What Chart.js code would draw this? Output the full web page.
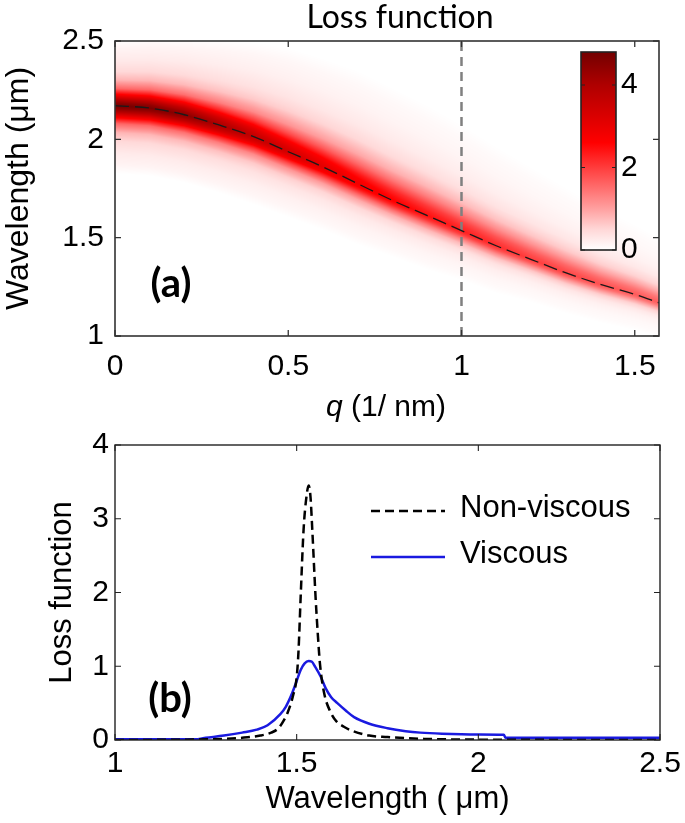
<!DOCTYPE html>
<html>
<head>
<meta charset="utf-8">
<script src="https://cdn.jsdelivr.net/npm/chart.js@4.4.1/dist/chart.umd.min.js"></script>
<style>
  html, body { margin: 0; padding: 0; background: #fff; }
  #wrap { position: relative; width: 685px; height: 823px; }
  #lossMap { position: absolute; left: 0; top: 0; }
  #lossCut { position: absolute; left: 0; top: 430px; }
</style>
</head>
<body>
<div id="wrap">
  <canvas id="lossMap" width="685" height="430"></canvas>
  <canvas id="lossCut" width="685" height="393"></canvas>
</div>
<script>
// ---- panel (a): loss map vs q ----
const qValues        = [0, 0.1, 0.2, 0.3, 0.4, 0.5, 0.6, 0.7, 0.8, 0.9, 1.0, 1.1, 1.2, 1.3, 1.4, 1.5, 1.57];
const peakWavelength = [2.171, 2.159, 2.125, 2.073, 2.014, 1.937, 1.86, 1.775, 1.69, 1.613, 1.536, 1.459, 1.39, 1.322, 1.263, 1.212, 1.169];
const peakLoss       = [4.8, 4.7, 4.5, 4.1, 3.7, 3.4, 3.1, 2.85, 2.65, 2.45, 2.3, 2.15, 2.0, 1.9, 1.8, 1.7, 1.65];
const spreadAbove    = [0.29, 0.31, 0.34, 0.38, 0.42, 0.46, 0.48, 0.5, 0.5, 0.49, 0.47, 0.44, 0.41, 0.38, 0.34, 0.31, 0.29];
const spreadBelow    = [0.30, 0.30, 0.30, 0.30, 0.30, 0.29, 0.28, 0.27, 0.25, 0.24, 0.22, 0.21, 0.19, 0.18, 0.17, 0.16, 0.15];
// cross-section of the band (fraction of spread -> fraction of peak)
const profileFrac  = [0, 0.05, 0.1, 0.2, 0.3, 0.45, 0.6, 0.8, 1.0, 1.15];
const profileLevel = [1, 0.93, 0.83, 0.55, 0.33, 0.17, 0.1, 0.055, 0.03, 0];

const markerQ = [1, 1];
const markerWavelength = [1, 2.5];

const qTicks = [0, 0.5, 1, 1.5];
const wavelengthTicksA = [1, 1.5, 2, 2.5];

const colorbarTicks = [0, 2, 4];
const colorbarMax = 4.8;
const cmapValues = [0, 0.5, 1, 1.5, 2, 2.6, 3.3, 4, 4.8];
const cmapColors = [[255,255,255],[255,215,215],[255,160,160],[255,110,110],[255,60,60],[255,0,0],[215,0,0],[175,0,0],[115,0,0]];

// ---- panel (b): loss function at q = 1 ----
const nonViscousWavelength = [1.0, 1.2, 1.3, 1.35, 1.4, 1.43, 1.45, 1.465, 1.475, 1.49, 1.5, 1.505, 1.511, 1.519, 1.527, 1.533, 1.538, 1.543, 1.552, 1.558, 1.564, 1.575, 1.594, 1.61, 1.63, 1.65, 1.7, 1.75, 1.8, 1.85, 1.9, 2.0, 2.5];
const nonViscousLoss       = [0.0, 0.005, 0.015, 0.03, 0.06, 0.1, 0.16, 0.27, 0.37, 0.6, 0.85, 1.2, 1.94, 2.85, 3.3, 3.45, 3.3, 2.85, 1.94, 1.45, 1.04, 0.65, 0.37, 0.25, 0.18, 0.13, 0.06, 0.04, 0.025, 0.015, 0.01, 0.005, 0.0];
const viscousWavelength = [1.0, 1.22, 1.25, 1.3, 1.35, 1.39, 1.42, 1.455, 1.47, 1.488, 1.5, 1.511, 1.522, 1.533, 1.542, 1.55, 1.566, 1.58, 1.595, 1.612, 1.635, 1.658, 1.7, 1.75, 1.8, 1.84, 1.9, 2.0, 2.07, 2.075, 2.5];
const viscousLoss       = [0.01, 0.01, 0.03, 0.06, 0.1, 0.14, 0.2, 0.35, 0.45, 0.64, 0.8, 0.95, 1.04, 1.07, 1.06, 1.0, 0.86, 0.7, 0.58, 0.5, 0.4, 0.31, 0.22, 0.16, 0.12, 0.1, 0.085, 0.075, 0.07, 0.03, 0.03];

const wavelengthTicksB = [1, 1.5, 2, 2.5];
const lossTicks = [0, 1, 2, 3, 4];

Chart.defaults.font.family = '"Liberation Sans", Arial, sans-serif';
Chart.defaults.color = '#000';

function interp(xs, ys, x) {
  if (x <= xs[0]) return ys[0];
  for (let i = 1; i < xs.length; i++) {
    if (x <= xs[i]) {
      const t = (x - xs[i - 1]) / (xs[i] - xs[i - 1]);
      return ys[i - 1] + t * (ys[i] - ys[i - 1]);
    }
  }
  return ys[ys.length - 1];
}

function lossColor(v) {
  return [0, 1, 2].map(k => Math.round(interp(cmapValues, cmapColors.map(c => c[k]), v)));
}

const lossMapPlugin = {
  id: 'lossMap',
  beforeDatasetsDraw(chart) {
    const { ctx, chartArea: a, scales: { x, y } } = chart;
    const w = Math.round(a.right - a.left), h = Math.round(a.bottom - a.top);
    const off = document.createElement('canvas');
    off.width = w; off.height = h;
    const octx = off.getContext('2d');
    const img = octx.createImageData(w, h);
    for (let i = 0; i < w; i++) {
      const q = x.getValueForPixel(a.left + i + 0.5);
      const c = interp(qValues, peakWavelength, q);
      const p = interp(qValues, peakLoss, q);
      const up = interp(qValues, spreadAbove, q);
      const dn = interp(qValues, spreadBelow, q);
      for (let j = 0; j < h; j++) {
        const wl = y.getValueForPixel(a.top + j + 0.5);
        const d = wl - c;
        const f = d >= 0 ? d / up : -d / dn;
        const col = lossColor(p * interp(profileFrac, profileLevel, f));
        const k = (j * w + i) * 4;
        img.data[k] = col[0]; img.data[k + 1] = col[1]; img.data[k + 2] = col[2]; img.data[k + 3] = 255;
      }
    }
    octx.putImageData(img, 0, 0);
    ctx.drawImage(off, a.left, a.top);
  }
};

// box around the plot with inward ticks on all four sides
const framePlugin = {
  id: 'frame',
  afterDatasetsDraw(chart, args, opts) {
    const { ctx, chartArea: a, scales: { x, y } } = chart;
    const L = 6;
    ctx.save();
    ctx.strokeStyle = opts.color;
    ctx.lineWidth = opts.width;
    ctx.beginPath();
    x.ticks.forEach(t => {
      const px = x.getPixelForValue(t.value);
      ctx.moveTo(px, a.bottom); ctx.lineTo(px, a.bottom - L);
      ctx.moveTo(px, a.top); ctx.lineTo(px, a.top + L);
    });
    y.ticks.forEach(t => {
      const py = y.getPixelForValue(t.value);
      ctx.moveTo(a.left, py); ctx.lineTo(a.left + L, py);
      ctx.moveTo(a.right, py); ctx.lineTo(a.right - L, py);
    });
    ctx.stroke();
    ctx.lineWidth = opts.width + 0.3;
    ctx.strokeRect(a.left, a.top, a.right - a.left, a.bottom - a.top);
    ctx.restore();
  }
};

const panelAText = {
  id: 'panelAText',
  afterDraw(chart) {
    const { ctx } = chart;
    ctx.save();
    ctx.fillStyle = '#000';
    ctx.textBaseline = 'alphabetic';
    ctx.textAlign = 'center';
    ctx.font = '32px Lato, "Open Sans", sans-serif';
    ctx.fillText('Loss function', 400, 28);

    // x title with italic q
    ctx.textAlign = 'left';
    const fi = 'italic 30px "Liberation Sans", Arial, sans-serif';
    const fr = '30px "Liberation Sans", Arial, sans-serif';
    ctx.font = fi; const w1 = ctx.measureText('q').width;
    ctx.font = fr; const w2 = ctx.measureText(' (1/ nm)').width;
    const x0 = 386 - (w1 + w2) / 2;
    ctx.font = fi; ctx.fillText('q', x0, 416);
    ctx.font = fr; ctx.fillText(' (1/ nm)', x0 + w1, 416);

    ctx.font = 'bold 40px Lato, "Open Sans", sans-serif';
    ctx.textAlign = 'center';
    ctx.textBaseline = 'middle';
    ctx.fillText('(a)', 171, 284);

    // colorbar
    const cb = { left: 581, right: 616, top: 52, bottom: 250 };
    const g = ctx.createLinearGradient(0, cb.bottom, 0, cb.top);
    cmapValues.forEach((v, i) => g.addColorStop(Math.min(v / colorbarMax, 1), 'rgb(' + cmapColors[i].join(',') + ')'));
    ctx.fillStyle = g;
    ctx.fillRect(cb.left, cb.top, cb.right - cb.left, cb.bottom - cb.top);
    ctx.strokeStyle = '#222';
    ctx.lineWidth = 1.6;
    ctx.strokeRect(cb.left, cb.top, cb.right - cb.left, cb.bottom - cb.top);
    ctx.fillStyle = '#000';
    ctx.font = '30px "Liberation Sans", Arial, sans-serif';
    ctx.textAlign = 'left';
    ctx.textBaseline = 'middle';
    ctx.lineWidth = 1;
    ctx.beginPath();
    colorbarTicks.forEach(v => {
      const py = cb.bottom - (v / colorbarMax) * (cb.bottom - cb.top);
      ctx.moveTo(cb.left, py); ctx.lineTo(cb.left + 4, py);
      ctx.moveTo(cb.right, py); ctx.lineTo(cb.right - 4, py);
      ctx.fillText(String(v), 621, py);
    });
    ctx.stroke();
    ctx.restore();
  }
};

const panelBText = {
  id: 'panelBText',
  afterDraw(chart) {
    const { ctx } = chart;
    const ds = chart.data.datasets;
    ctx.save();
    ctx.fillStyle = '#000';
    ctx.font = 'bold 40px Lato, "Open Sans", sans-serif';
    ctx.textAlign = 'center';
    ctx.textBaseline = 'middle';
    ctx.fillText('(b)', 170, 269);

    // legend
    const rows = [78, 124];
    ctx.font = '31px "Liberation Sans", Arial, sans-serif';
    ctx.textAlign = 'left';
    ds.forEach((d, i) => {
      ctx.strokeStyle = d.borderColor;
      ctx.lineWidth = d.borderWidth;
      ctx.setLineDash(d.borderDash || []);
      ctx.beginPath();
      ctx.moveTo(371, rows[i] + 3); ctx.lineTo(445, rows[i] + 3);
      ctx.stroke();
      ctx.fillText(d.label, 460, rows[i]);
    });
    ctx.restore();
  }
};

function fixedTicks(values) {
  return s => { s.ticks = values.map(v => ({ value: v })); };
}
function noPad(s) { s.paddingLeft = 0; s.paddingRight = 0; s.paddingTop = 0; s.paddingBottom = 0; }

function axis(min, max, tickValues, fitFn, padding, title) {
  return {
    type: 'linear', min, max,
    afterBuildTicks: fixedTicks(tickValues),
    afterFit: s => { fitFn(s); noPad(s); },
    grid: { display: false, drawTicks: false },
    border: { display: false },
    ticks: { padding, font: { size: 30 }, color: '#000', autoSkip: false, maxRotation: 0, callback: v => String(v) },
    title: title || { display: false }
  };
}

new Chart(document.getElementById('lossMap'), {
  type: 'scatter',
  data: {
    datasets: [
      {
        data: qValues.map((q, i) => ({ x: q, y: peakWavelength[i] })),
        showLine: true, borderColor: '#1a1a1a', borderWidth: 1.3, borderDash: [14, 6],
        pointRadius: 0, cubicInterpolationMode: 'monotone'
      },
      {
        data: markerQ.map((q, i) => ({ x: q, y: markerWavelength[i] })),
        showLine: true, borderColor: '#808080', borderWidth: 2.5, borderDash: [9, 6], pointRadius: 0
      }
    ]
  },
  options: {
    responsive: false,
    animation: false,
    layout: { autoPadding: false, padding: { top: 41, right: 26, bottom: 0, left: 0 } },
    plugins: { legend: { display: false }, tooltip: { enabled: false }, frame: { color: '#333', width: 1.3 } },
    scales: {
      x: axis(0, 1.57, qTicks, s => { s.height = 94; }, 13),
      y: axis(1, 2.5, wavelengthTicksA, s => { s.width = 115; }, 11,
        { display: true, text: 'Wavelength (μm)', font: { size: 32 }, color: '#000', padding: { top: 0, bottom: 0 } })
    }
  },
  plugins: [lossMapPlugin, framePlugin, panelAText]
});

new Chart(document.getElementById('lossCut'), {
  type: 'scatter',
  data: {
    datasets: [
      {
        label: 'Non-viscous',
        data: nonViscousWavelength.map((w, i) => ({ x: w, y: nonViscousLoss[i] })),
        showLine: true, borderColor: '#000', borderWidth: 2.5, borderDash: [9, 5],
        pointRadius: 0, cubicInterpolationMode: 'monotone'
      },
      {
        label: 'Viscous',
        data: viscousWavelength.map((w, i) => ({ x: w, y: viscousLoss[i] })),
        showLine: true, borderColor: '#1a1ae0', borderWidth: 2.5,
        pointRadius: 0, cubicInterpolationMode: 'monotone'
      }
    ]
  },
  options: {
    responsive: false,
    animation: false,
    layout: { autoPadding: false, padding: { top: 15, right: 25, bottom: 0, left: 0 } },
    plugins: { legend: { display: false }, tooltip: { enabled: false }, frame: { color: '#222', width: 1.1 } },
    scales: {
      x: axis(1, 2.5, wavelengthTicksB, s => { s.height = 83; }, 6,
        { display: true, text: 'Wavelength ( μm)', font: { size: 31 }, color: '#000', padding: { top: 0, bottom: 5 } }),
      y: axis(0, 4, lossTicks, s => { s.width = 115; }, 6,
        { display: true, text: 'Loss function', font: { size: 31 }, color: '#000', padding: { top: 44, bottom: 0 } })
    }
  },
  plugins: [framePlugin, panelBText]
});
</script>
</body>
</html>
